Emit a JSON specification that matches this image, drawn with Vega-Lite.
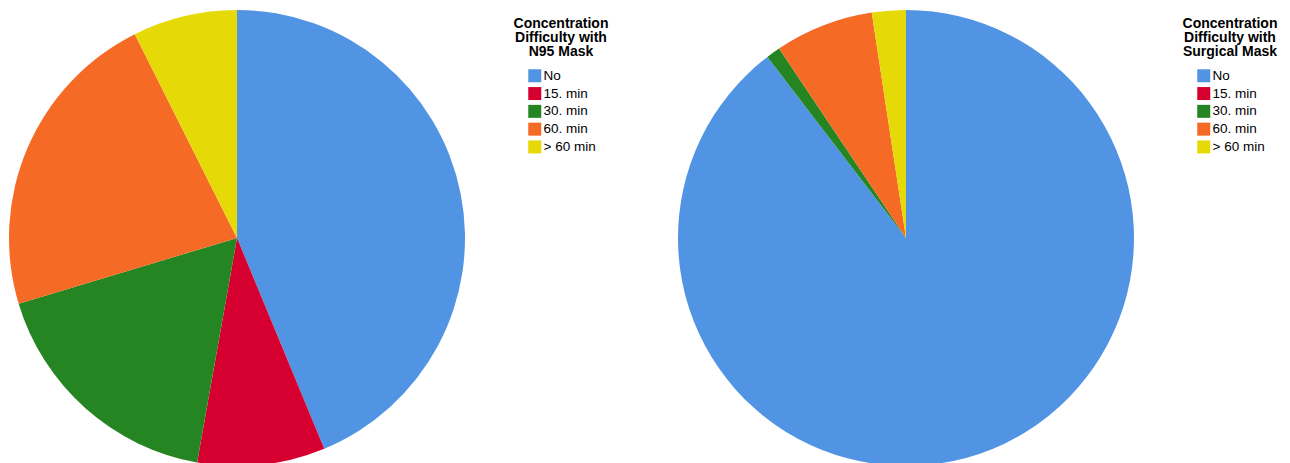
{
  "$schema": "https://vega.github.io/schema/vega-lite/v6.json",
  "padding": {"left": 9, "top": 10, "right": 0, "bottom": 0},
  "background": "white",
  "config": {"view": {"stroke": null}, "font": "Liberation Sans"},
  "datasets": {
    "d": [
      {"mask": "N95", "cat": "No", "idx": 1, "pct": 43.75},
      {"mask": "N95", "cat": "15. min", "idx": 2, "pct": 9.05},
      {"mask": "N95", "cat": "30. min", "idx": 3, "pct": 17.55},
      {"mask": "N95", "cat": "60. min", "idx": 4, "pct": 22.25},
      {"mask": "N95", "cat": "> 60 min", "idx": 5, "pct": 7.4},
      {"mask": "Surgical", "cat": "No", "idx": 1, "pct": 89.6},
      {"mask": "Surgical", "cat": "15. min", "idx": 2, "pct": 0},
      {"mask": "Surgical", "cat": "30. min", "idx": 3, "pct": 1.0},
      {"mask": "Surgical", "cat": "60. min", "idx": 4, "pct": 7.0},
      {"mask": "Surgical", "cat": "> 60 min", "idx": 5, "pct": 2.4}
    ]
  },
  "data": {"name": "d"},
  "spacing": 213,
  "bounds": "flush",
  "resolve": {"scale": {"color": "independent", "theta": "independent"}, "legend": {"color": "independent"}},
  "hconcat": [
    {
      "transform": [{"filter": "datum.mask == 'N95'"}],
      "width": 456,
      "height": 456,
      "mark": {"type": "arc", "stroke": null},
      "encoding": {
        "theta": {"field": "pct", "type": "quantitative", "stack": true},
        "order": {"field": "idx", "type": "quantitative"},
        "color": {
          "field": "cat", "type": "nominal", "sort": null,
          "scale": {"domain": ["No", "15. min", "30. min", "60. min", "> 60 min"], "range": ["#5294E4", "#D5002F", "#258522", "#F56A24", "#E5DA08"]},
          "legend": {
            "title": ["Concentration", "Difficulty with", "N95 Mask"],
            "orient": "right", "offset": 42, "padding": 7,
            "titleFont": "Liberation Sans", "titleFontSize": 14, "titleFontWeight": "bold", "titleColor": "black",
            "titleAlign": "center", "titleAnchor": "middle", "titleLineHeight": 14, "titlePadding": 10,
            "symbolType": "square", "symbolSize": 169, "symbolStrokeWidth": 0, "symbolOffset": 2,
            "labelFont": "Liberation Sans", "labelFontSize": 13.5, "labelColor": "black", "labelOffset": 2, "rowPadding": 2.8
          }
        }
      }
    },
    {
      "transform": [{"filter": "datum.mask == 'Surgical'"}],
      "width": 456,
      "height": 456,
      "mark": {"type": "arc", "stroke": null},
      "encoding": {
        "theta": {"field": "pct", "type": "quantitative", "stack": true},
        "order": {"field": "idx", "type": "quantitative"},
        "color": {
          "field": "cat", "type": "nominal", "sort": null,
          "scale": {"domain": ["No", "15. min", "30. min", "60. min", "> 60 min"], "range": ["#5294E4", "#D5002F", "#258522", "#F56A24", "#E5DA08"]},
          "legend": {
            "title": ["Concentration", "Difficulty with", "Surgical Mask"],
            "orient": "right", "offset": 42, "padding": 7,
            "titleFont": "Liberation Sans", "titleFontSize": 14, "titleFontWeight": "bold", "titleColor": "black",
            "titleAlign": "center", "titleAnchor": "middle", "titleLineHeight": 14, "titlePadding": 10,
            "symbolType": "square", "symbolSize": 169, "symbolStrokeWidth": 0, "symbolOffset": 2,
            "labelFont": "Liberation Sans", "labelFontSize": 13.5, "labelColor": "black", "labelOffset": 2, "rowPadding": 2.8
          }
        }
      }
    }
  ]
}
